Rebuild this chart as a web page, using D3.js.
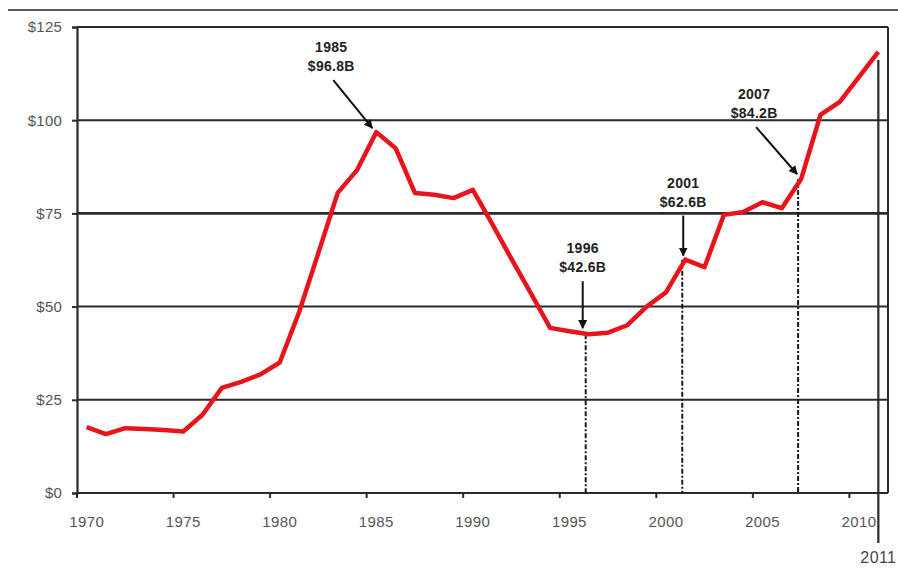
<!DOCTYPE html>
<html>
<head>
<meta charset="utf-8">
<script src="https://cdn.jsdelivr.net/npm/d3@7"></script>
<style>
  body { margin: 0; background: #fff; }
  svg { display: block; font-family: Arial, "Liberation Sans", sans-serif; }
</style>
</head>
<body>
<div id="canvas"></div>
<script>
// data, billions of dollars
var years = d3.range(1970, 2012)
var values = [17.7, 15.8, 17.4, 17.2, 16.9, 16.5, 21.0, 28.2, 29.8, 31.8,
    35.0, 48.5, 64.4, 80.5, 86.6, 96.8, 92.5, 80.5, 80.0, 79.1,
    81.3, 72.2, 62.8, 53.6, 44.3, 43.4, 42.6, 43.0, 45.0, 50.0,
    53.8, 62.6, 60.6, 74.6, 75.4, 78.0, 76.4, 84.2, 101.4, 104.9,
    111.6, 118.3]
var yTicks = [0, 25, 50, 75, 100, 125]
var xTickYears = [1970, 1975, 1980, 1985, 1990, 1995, 2000, 2005, 2010]
var callouts = [
    { year: 1985, label: '$96.8B', dx: -45, dy: -80, ex: -4, ey: -4 },
    { year: 1996, label: '$42.6B', dx: -6, dy: -81, ex: -6, ey: -6 },
    { year: 2001, label: '$62.6B', dx: -2, dy: -72, ex: -2, ey: -4 },
    { year: 2007, label: '$84.2B', dx: -47, dy: -80, ex: -4, ey: -5 }
]
var dropYears = [1996, 2001, 2007]

var width = 898, height = 568
var margin = { top: 27, right: 10, bottom: 75, left: 77 }
var plotW = width - margin.left - margin.right
var plotH = height - margin.top - margin.bottom

var svg = d3.select('#canvas').append('svg')
    .attr('width', width)
    .attr('height', height)

var defs = svg.append('defs')
defs.append('marker')
    .attr('id', 'arrow')
    .attr('viewBox', '0 0 10 10')
    .attr('refX', 9).attr('refY', 5)
    .attr('markerWidth', 4.5).attr('markerHeight', 4.5)
    .attr('orient', 'auto')
    .append('path')
    .attr('d', 'M0,0 L10,5 L0,10 z')
    .attr('fill', '#111')

// rule above the chart
svg.append('line')
    .attr('x1', 8).attr('x2', width)
    .attr('y1', 10).attr('y2', 10)
    .attr('stroke', '#555').attr('stroke-width', 2)

var g = svg.append('g')
    .attr('transform', 'translate(' + margin.left + ',' + margin.top + ')')

var x = d3.scaleBand()
    .domain(years)
    .range([0, plotW])
    .paddingInner(0).paddingOuter(0)
var cx = function (yr) { return x(yr) + x.bandwidth() / 2 }

var y = d3.scaleLinear()
    .domain([0, 125])
    .range([plotH, 0])

//gridlines
g.selectAll('.grid')
    .data(yTicks)
    .enter().append('line')
    .attr('class', 'grid')
    .attr('x1', 0).attr('x2', plotW)
    .attr('y1', function (d) { return y(d) })
    .attr('y2', function (d) { return y(d) })
    .attr('stroke', '#2a2a2a')
    .attr('stroke-width', function (d) { return d === 75 ? 2.8 : 2 })

// right border
g.append('line')
    .attr('x1', plotW).attr('x2', plotW)
    .attr('y1', 0).attr('y2', plotH)
    .attr('stroke', '#2a2a2a').attr('stroke-width', 2)

//y axis
var yAxis = g.append('g')
    .call(d3.axisLeft(y).tickValues(yTicks).tickSize(5).tickPadding(10)
        .tickFormat(function (d) { return '$' + d }))
yAxis.select('.domain').attr('stroke', '#2a2a2a').attr('stroke-width', 2.2)
yAxis.selectAll('.tick line').attr('stroke', '#2a2a2a').attr('stroke-width', 2)
yAxis.selectAll('text')
    .attr('fill', '#555').style('font-size', '15px')
    .attr('letter-spacing', '0.2px')

//x axis: ticks on category edges, labels centered on categories
var xAxis = g.append('g')
    .attr('transform', 'translate(0,' + plotH + ')')
xAxis.append('line')
    .attr('x1', 0).attr('x2', plotW)
    .attr('stroke', '#2a2a2a').attr('stroke-width', 2.2)
xAxis.selectAll('.xtick')
    .data(xTickYears)
    .enter().append('line')
    .attr('class', 'xtick')
    .attr('x1', function (d) { return x(d) })
    .attr('x2', function (d) { return x(d) })
    .attr('y1', 0).attr('y2', 5)
    .attr('stroke', '#2a2a2a').attr('stroke-width', 2)
xAxis.selectAll('.xlabel')
    .data(xTickYears)
    .enter().append('text')
    .attr('class', 'xlabel')
    .attr('x', function (d) { return cx(d) })
    .attr('y', 34)
    .attr('text-anchor', 'middle')
    .attr('fill', '#555')
    .attr('letter-spacing', '0.4px')
    .style('font-size', '15px')
    .text(function (d) { return d })

// drop lines under the callouts
g.selectAll('.drop')
    .data(dropYears)
    .enter().append('line')
    .attr('class', 'drop')
    .attr('x1', function (d) { return cx(d) - 3 })
    .attr('x2', function (d) { return cx(d) - 3 })
    .attr('y1', function (d) { return y(values[years.indexOf(d)]) })
    .attr('y2', plotH)
    .attr('stroke', '#1a1a1a').attr('stroke-width', 2)
    .attr('stroke-dasharray', '5,2,2,2')

// 2011 marker line
var last = years[years.length - 1]
g.append('line')
    .attr('x1', cx(last)).attr('x2', cx(last))
    .attr('y1', y(values[values.length - 1]) + 8)
    .attr('y2', plotH + 50)
    .attr('stroke', '#2a2a2a').attr('stroke-width', 2.2)
g.append('text')
    .attr('x', cx(last)).attr('y', plotH + 70)
    .attr('text-anchor', 'middle')
    .attr('fill', '#444')
    .attr('letter-spacing', '0.4px')
    .style('font-size', '16px')
    .text(last)

//the series
var line = d3.line()
    .x(function (d, i) { return cx(years[i]) })
    .y(function (d) { return y(d) })
g.append('path')
    .datum(values)
    .attr('fill', 'none')
    .attr('stroke', '#e8141b')
    .attr('stroke-width', 4.5)
    .attr('stroke-linejoin', 'round')
    .attr('d', line)

// callouts
callouts.forEach(function (c) {
    var px = cx(c.year), py = y(values[years.indexOf(c.year)])
    var tx = px + c.dx, ty = py + c.dy
    var t = g.append('text')
        .attr('text-anchor', 'middle')
        .attr('fill', '#222')
        .attr('font-weight', 'bold')
        .attr('letter-spacing', '0.3px')
        .style('font-size', '14px')
    t.append('tspan').attr('x', tx).attr('y', ty).text(c.year)
    t.append('tspan').attr('x', tx).attr('y', ty + 19).text(c.label)
    g.append('line')
        .attr('x1', tx + (c.dx < -20 ? 2 : 0)).attr('x2', px + c.ex)
        .attr('y1', ty + 28).attr('y2', py + c.ey)
        .attr('stroke', '#111').attr('stroke-width', 2)
        .attr('marker-end', 'url(#arrow)')
})
</script>
</body>
</html>
